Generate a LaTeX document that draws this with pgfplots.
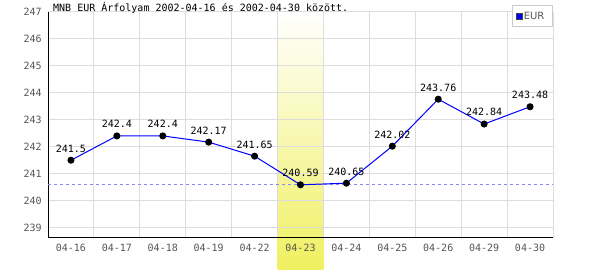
\documentclass[border=0pt]{standalone}
\usepackage{fontspec}
\setmainfont{DejaVu Sans}
\setmonofont{DejaVu Sans Mono}
\usepackage{pgfplots}
\usepackage{pgfplotstable}
\pgfplotsset{compat=1.18}
\definecolor{gridc}{HTML}{DDDDDD}
\definecolor{tickc}{HTML}{555555}
\definecolor{dashc}{HTML}{8888FF}
\definecolor{hly}{HTML}{F0F060}
\definecolor{legb}{HTML}{CCCCCC}

\pgfplotstableread{
x y lab
0 241.50 241.5
1 242.40 242.4
2 242.40 242.4
3 242.17 242.17
4 241.65 241.65
5 240.59 240.59
6 240.65 240.65
7 242.02 242.02
8 243.76 243.76
9 242.84 242.84
10 243.48 243.48
}\eur

\begin{document}
\begin{tikzpicture}
\begin{axis}[
  at={(48pt,32pt)}, anchor=south west,
  set layers,
  scale only axis, width=505pt, height=226.3pt,
  xmin=-0.5, xmax=10.5, ymin=238.62, ymax=247,
  axis x line*=bottom, axis y line*=left,
  axis line style={black, line width=1pt},
  xtick={0,...,10},
  xticklabels={04-16,04-17,04-18,04-19,04-22,04-23,04-24,04-25,04-26,04-29,04-30},
  minor xtick={-0.5,0.5,...,10.5},
  ytick={239,...,247},
  major tick length=0pt, minor tick length=0pt,
  ymajorgrids, xminorgrids,
  grid style={gridc, line width=1pt},
  minor grid style={gridc, line width=1pt},
  tick label style={font=\ttfamily\fontsize{10}{12}\selectfont, text=tickc},
  xticklabel style={yshift=-3pt},
  yticklabel style={xshift=-2.7pt},
  /pgf/number format/assume math mode=true,
  clip=false,
  legend style={at={(1,1.0296)}, anchor=north east, draw=legb, fill=white,
    line width=1pt, font=\fontsize{10}{12}\selectfont, text=tickc,
    inner xsep=3.85pt, inner ysep=5.5pt, nodes={inner sep=0.85pt}, column sep=0pt},
  legend cell align=left,
]
\begin{pgfonlayer}{axis background}
\fill[top color=white, bottom color=hly] (axis cs:4.5,247) rectangle (axis cs:5.5,237.43);
\end{pgfonlayer}
\addplot[dashc, dash pattern=on 3pt off 3pt, line width=1pt, forget plot]
  coordinates {(-0.5,240.59) (10.5,240.59)};
\addplot[blue, line width=1pt, mark=*, mark size=3pt, mark options={black, fill=black},
  legend image code/.code={\draw[fill=blue, draw=darkgray, line width=0.6pt] (0pt,-3pt) rectangle (6pt,3pt);},
  nodes near coords, point meta=explicit symbolic,
  nodes near coords align=above,
  every node near coord/.append style={font=\ttfamily\fontsize{10}{12}\selectfont, text=black, inner sep=0pt, yshift=7.5pt}]
  table[x=x, y=y, meta=lab]{\eur};
\addlegendentry{\makebox[24pt][l]{EUR}}
\node[anchor=base west, font=\ttfamily\fontsize{10}{12}\selectfont, inner sep=0pt, text=black]
  at (rel axis cs:0.0099,1.0) {MNB EUR Árfolyam 2002-04-16 és 2002-04-30 között.};
\end{axis}
\pgfresetboundingbox
\path[use as bounding box] (0pt,0pt) rectangle (600pt,270pt);
\end{tikzpicture}
\end{document}
